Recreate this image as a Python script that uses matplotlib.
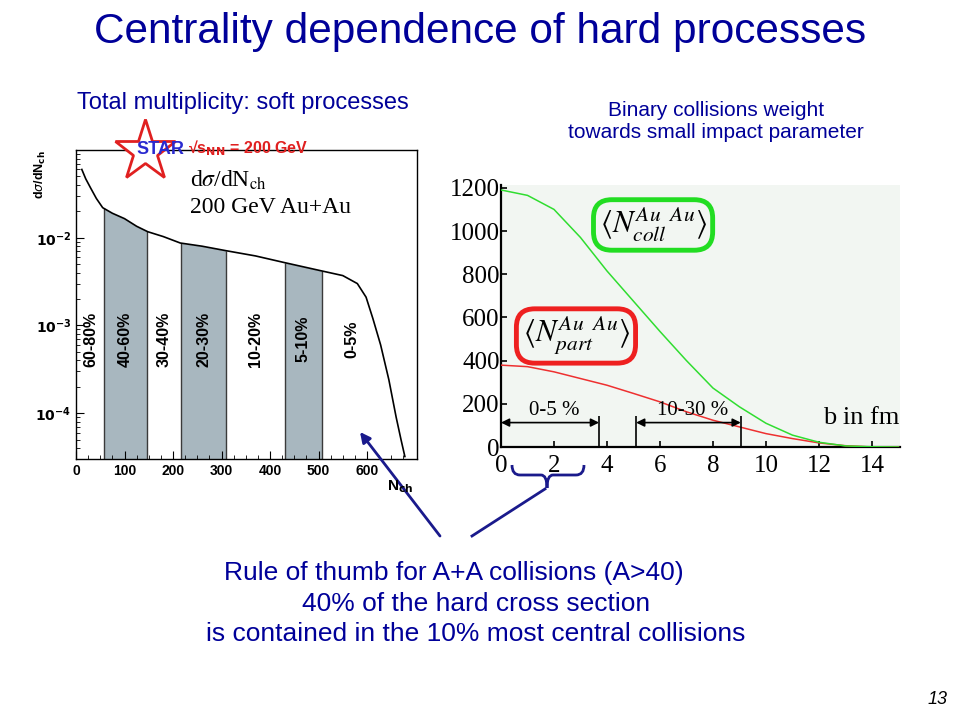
import numpy as np
import matplotlib
matplotlib.use('Agg')
import matplotlib.pyplot as plt
from matplotlib.lines import Line2D
from matplotlib.path import Path
from matplotlib.patches import PathPatch, FancyArrowPatch

plt.rcParams['font.family'] = ['Liberation Sans', 'DejaVu Sans']
plt.rcParams['mathtext.fontset'] = 'dejavusans'

# ---- left plot: STAR multiplicity distribution ----
nch = [12, 20, 30, 42, 55, 75, 100, 125, 148, 180, 215, 260, 310, 370, 430,
       505, 550, 580, 598, 612, 628, 645, 660, 670, 678]
dsigma = [0.06, 0.047, 0.037, 0.028, 0.022, 0.019, 0.0165, 0.0135, 0.0117,
          0.0103, 0.0087, 0.0080, 0.0071, 0.0062, 0.0052, 0.0042, 0.0037,
          0.0030, 0.0021, 0.0012, 6e-4, 2.4e-4, 9e-5, 5e-5, 3.2e-5]
shaded_bands = [(57, 147), (217, 310), (430, 507)]
class_labels = ['60-80%', '40-60%', '30-40%', '20-30%', '10-20%', '5-10%', '0-5%']
class_centers = [31, 102, 181, 263, 370, 468, 568]

# ---- right plot: Glauber Ncoll / Npart vs impact parameter ----
b_fm = list(range(0, 16))
n_coll = [1190, 1165, 1100, 970, 815, 675, 535, 400, 273, 186, 110, 55, 22, 5, 1, 0]
n_part = [379, 372, 348, 317, 286, 248, 209, 163, 124, 93, 62, 39, 19, 6, 0, 0]
b_ranges = [(0, 3.7, '0-5 %'), (5.1, 9.05, '10-30 %')]

W, H = 960, 720
NAVY = '#000099'
ARROW = '#1a1a8c'


def fx(x, y):
    return x / W, 1 - y / H


def rect(x0, y0, x1, y1):
    return [x0 / W, 1 - y1 / H, (x1 - x0) / W, (y1 - y0) / H]


fig = plt.figure(figsize=(9.6, 7.2), dpi=100)
fig.patch.set_facecolor('white')

# titles / slide text
fig.text(*fx(480, 32), 'Centrality dependence of hard processes', fontsize=30.5,
         color=NAVY, ha='center', va='center')
fig.text(*fx(77, 103), 'Total multiplicity: soft processes', fontsize=17,
         color=NAVY, ha='left', va='center')
fig.text(*fx(716, 111), 'Binary collisions weight', fontsize=15,
         color=NAVY, ha='center', va='center')
fig.text(*fx(716, 133), 'towards small impact parameter', fontsize=15,
         color=NAVY, ha='center', va='center')
fig.text(*fx(454, 573), 'Rule of thumb for A+A collisions (A>40)', fontsize=19,
         color=NAVY, ha='center', va='center')
fig.text(*fx(476, 604), '40% of the hard cross section', fontsize=19,
         color=NAVY, ha='center', va='center')
fig.text(*fx(476, 634), 'is contained in the 10% most central collisions', fontsize=19,
         color=NAVY, ha='center', va='center')
fig.text(*fx(938, 700), '13', fontsize=13, style='italic', ha='center', va='center')

# ---------------- left axes ----------------
ax1 = fig.add_axes(rect(76, 150, 417, 459))
ax1.set_yscale('log')
ax1.set_xlim(0, 703)
ax1.set_ylim(3e-5, 0.1)

log_d = np.log10(dsigma)
for a, b in shaded_bands:
    ya = 10 ** np.interp(a, nch, log_d)
    yb = 10 ** np.interp(b, nch, log_d)
    xs = [a] + [x for x in nch if a < x < b] + [b]
    ys = [ya] + [y for x, y in zip(nch, dsigma) if a < x < b] + [yb]
    ax1.fill_between(xs, ys, 1e-6, color='#a8b7bf', lw=0, zorder=1)
    ax1.vlines([a, b], 1e-6, [ya, yb], color='#3a3a3a', lw=1, zorder=2)

ax1.plot(nch, dsigma, color='black', lw=1.2, zorder=3)

for lab, c in zip(class_labels, class_centers):
    ax1.text(c, 7e-4, lab, rotation=90, ha='center', va='center',
             fontsize=11.5, fontweight='bold', zorder=4)

ax1.text(235, 0.045, r'd$\sigma$/dN$_{\rm ch}$', fontsize=17,
         family='Liberation Serif', math_fontfamily='stix', va='center')
ax1.text(235, 0.022, '200 GeV Au+Au', fontsize=17,
         family='Liberation Serif', va='center')

ax1.set_xticks(range(0, 700, 100))
ax1.set_xticklabels([str(v) for v in range(0, 700, 100)], fontweight='bold')
ax1.set_xticks(range(0, 700, 25), minor=True)
ax1.set_yticks([1e-4, 1e-3, 1e-2])
ax1.set_yticklabels([r'$\mathbf{10^{-4}}$', r'$\mathbf{10^{-3}}$', r'$\mathbf{10^{-2}}$'])
ax1.tick_params(which='both', direction='in', labelsize=10, top=False, right=False)
ax1.tick_params(which='major', length=6)
ax1.tick_params(which='minor', length=3)
for s in ax1.spines.values():
    s.set_linewidth(1)

fig.text(*fx(40, 175), r'd$\sigma$/dN$_{\mathbf{ch}}$', rotation=90, fontsize=9,
         fontweight='bold', ha='center', va='center')
fig.text(*fx(400, 487), r'N$_{\mathbf{ch}}$', fontsize=11, fontweight='bold',
         ha='center', va='center')

# STAR logo
fig.add_artist(Line2D([145 / W], [1 - 151 / H], marker='*', markersize=46,
                      mfc='white', mec='#e02020', mew=2, transform=fig.transFigure))
fig.text(*fx(160, 149), 'STAR', fontsize=13, fontweight='bold', color='#2a2ad0',
         ha='center', va='center',
         bbox=dict(boxstyle='square,pad=0.05', fc='none', ec='none'))
fig.text(*fx(188, 148), r'√s$_{\mathbf{NN}}$ = 200 GeV', fontsize=11.5,
         fontweight='bold', color='#e02020', ha='left', va='center')

# ---------------- right axes ----------------
ax2 = fig.add_axes(rect(501, 185, 900, 447))
ax2.set_facecolor('#f2f6f2')
ax2.set_xlim(0, 15.06)
ax2.set_ylim(0, 1213)
ax2.plot(b_fm, n_part, color='#ee3030', lw=1.1, zorder=3)
ax2.plot(b_fm, n_coll, color='#30dd30', lw=1.1, zorder=4)

for lo, hi, lab in b_ranges:
    ax2.vlines([lo, hi], 0, 142, color='black', lw=1.2, zorder=5)
    ax2.annotate('', xy=(lo, 113), xytext=(hi, 113),
                 arrowprops=dict(arrowstyle='<|-|>', color='black', lw=1.2,
                                 shrinkA=0, shrinkB=0, mutation_scale=12))
    ax2.text((lo + hi) / 2 + 0.15, 168, lab, fontsize=15, family='Liberation Serif',
             ha='center', va='center')
ax2.text(13.6, 135, 'b in fm', fontsize=19, family='Liberation Serif',
         ha='center', va='center')

ax2.text(5.74, 1028, r'$\langle N^{Au\ \ Au}_{coll}\rangle$', fontsize=22,
         math_fontfamily='stix', ha='center', va='center', zorder=6,
         bbox=dict(boxstyle='round,pad=0.2,rounding_size=0.6', fc='#f2f6f2',
                   ec='#22dd22', lw=3.5))
ax2.text(2.83, 514, r'$\langle N^{Au\ \ Au}_{part}\rangle$', fontsize=22,
         math_fontfamily='stix', ha='center', va='center', zorder=6,
         bbox=dict(boxstyle='round,pad=0.2,rounding_size=0.6', fc='#f2f6f2',
                   ec='#ee2020', lw=3.5))

ax2.set_xticks(range(0, 15, 2))
ax2.set_yticks(range(0, 1201, 200))
for lab in ax2.get_xticklabels() + ax2.get_yticklabels():
    lab.set_family('Liberation Serif')
ax2.tick_params(direction='in', length=4, width=1.2, labelsize=18, pad=1)
ax2.tick_params(axis='x', pad=6)
ax2.spines['top'].set_visible(False)
ax2.spines['right'].set_visible(False)
ax2.spines['left'].set_linewidth(1.6)
ax2.spines['bottom'].set_linewidth(1.6)

# brace under b = 0..3.7 and pointer lines
bx = [(512, 465), (512, 475), (520, 475), (541, 475), (547, 475), (547, 488),
      (547, 475), (553, 475), (576, 475), (584, 475), (584, 465)]
verts = [fx(x, y) for x, y in bx]
codes = [Path.MOVETO, Path.CURVE3, Path.CURVE3, Path.LINETO, Path.CURVE3, Path.CURVE3,
         Path.CURVE3, Path.CURVE3, Path.LINETO, Path.CURVE3, Path.CURVE3]
fig.add_artist(PathPatch(Path(verts, codes), fc='none', ec=ARROW, lw=2,
                         transform=fig.transFigure))
fig.add_artist(Line2D([472 / W, 545 / W], [1 - 536 / H, 1 - 489 / H], color=ARROW,
                      lw=2, transform=fig.transFigure))
fig.add_artist(FancyArrowPatch(fx(440, 536), fx(360, 432), arrowstyle='-|>',
                               mutation_scale=15, color=ARROW, lw=2,
                               shrinkA=0, shrinkB=0, transform=fig.transFigure))

fig.savefig('out.png', dpi=100)
